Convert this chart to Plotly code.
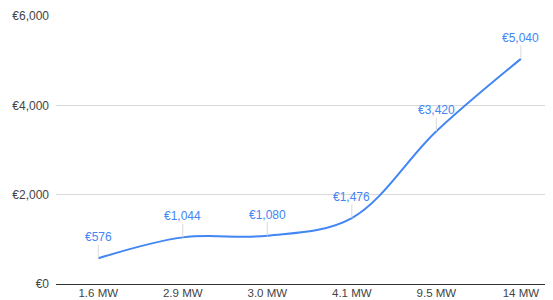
import plotly.graph_objects as go

categories = ["1.6 MW", "2.9 MW", "3.0 MW", "4.1 MW", "9.5 MW", "14 MW"]
values = [576, 1044, 1080, 1476, 3420, 5040]
label_text = ["€576", "€1,044", "€1,080", "€1,476", "€3,420", "€5,040"]
ytick_vals = [0, 2000, 4000, 6000]
ytick_text = ["€0", "€2,000", "€4,000", "€6,000"]

blue = "#4285F4"
FONT = "Arial, Liberation Sans, sans-serif"

fig = go.Figure()
fig.add_trace(go.Scatter(
    x=list(range(len(categories))), y=values, mode="lines",
    line=dict(color=blue, width=2, shape="spline", smoothing=1.0),
    hoverinfo="skip", showlegend=False,
))

for i, (v, t) in enumerate(zip(values, label_text)):
    fig.add_annotation(
        x=i, y=v, text=t, showarrow=True, arrowhead=0, arrowwidth=1,
        arrowcolor="#d9d9d9", ax=0, ay=-21, standoff=0,
        font=dict(family=FONT, size=12, color=blue),
        bgcolor="rgba(0,0,0,0)", borderpad=0,
    )

# page body adds an 8px margin, so the figure is sized to fit the window
fig.update_layout(
    width=545, height=292,
    margin=dict(l=48, r=0, t=8, b=16),
    paper_bgcolor="white", plot_bgcolor="white",
    font=dict(family=FONT, size=12, color="#444444"),
    xaxis=dict(
        tickmode="array", tickvals=list(range(len(categories))), ticktext=categories,
        range=[-0.5, 5.38], showgrid=False, zeroline=False,
        showline=True, linecolor="#333333", linewidth=1,
        ticks="", ticklen=0, automargin=False, fixedrange=True,
        ticklabelstandoff=-2, tickfont=dict(size=11.5),
    ),
    yaxis=dict(
        tickmode="array", tickvals=ytick_vals, ticktext=ytick_text,
        range=[0, 6000], showgrid=True, gridcolor="#d9d9d9", gridwidth=1,
        zeroline=False, showline=False, ticks="", automargin=False,
        fixedrange=True, ticklabelstandoff=6,
    ),
)

fig.write_html("out.html")
